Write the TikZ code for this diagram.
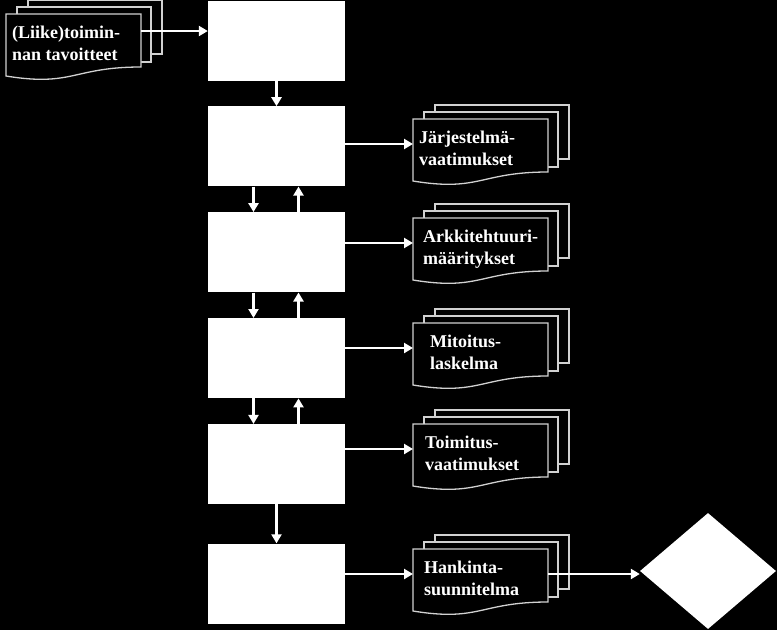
\documentclass[tikz,border=0pt]{standalone}
\usepackage{fontspec}
\setmainfont{Liberation Serif}
\usetikzlibrary{shapes.geometric,positioning,arrows.meta}

% a stack of three sheets: #2 name, #3/#4 top left corner, #5 text
\newcommand{\multidoc}[5][10]{%
  \begin{scope}[shift={(#3,#4)}]
    % The sheets behind:
    \draw[docline] (22,-14) rectangle (156,40);
    \draw[docline] (11,-7) rectangle (145,48);
    % The front sheet:
    \draw[docline] (0,0) -- (135,0) -- (135,53)
      .. controls (67,53) and (67,73) .. (0,62) -- cycle;
    \coordinate (#2-in) at (0,25);
    \coordinate (#2-out) at (135,25);
    % base of the last line
    \node[doctext] (#2) at (#1,46) {#5};
  \end{scope}}

\begin{document}
\begin{tikzpicture}[x=1pt, y=-1pt, node distance=25.5pt]
    \tikzstyle{stage} = [fill=white, minimum width=137pt, minimum height=80pt,
                         inner sep=0pt]
    \tikzstyle{docline} = [draw=white!82!black, fill=black, line width=1.3pt]
    \tikzstyle{doctext} = [anchor=base west, align=left, inner sep=0pt, text=white,
                           font=\bfseries\fontsize{18}{22}\selectfont]
    \tikzstyle{flow} = [draw=white, line width=2.4pt,
                        -{Triangle[length=9pt, width=10pt]}]
    \useasboundingbox (0,0) rectangle (777,630);
    \fill[black] (0,0) rectangle (777,630);

    % the stages
    \node[stage] (b1) at (276.5,40.5) {};
    \node[stage, below=of b1] (b2) {};
    \node[stage, below=of b2] (b3) {};
    \node[stage, below=of b3] (b4) {};
    \node[stage, below=of b4] (b5) {};
    \node[stage, below=39pt of b5] (b6) {};

    % the documents
    \multidoc[6]{lt}{6}{14}{(Liike)toimin-\\nan tavoitteet}
    \multidoc[6]{jv}{413}{119}{Järjestelmä-\\vaatimukset}
    \multidoc{am}{413}{218}{Arkkitehtuuri-\\määritykset}
    \multidoc[17]{ml}{413}{323}{Mitoitus-\\laskelma}
    \multidoc[12]{tv}{413}{424}{Toimitus-\\vaatimukset}
    \multidoc[11]{hs}{413}{549}{Hankinta-\\suunnitelma}

    \node[diamond, fill=white, minimum width=136pt, minimum height=116pt,
          inner sep=0pt] (dec) at (708,571) {};

    % connectors
    \coordinate (lt-exit) at ([yshift=8pt]lt-out);
    \draw[flow] (lt-exit) -- (lt-exit -| b1.west);
    \draw[flow] (b1.south) -- (b2.north);
    \foreach \u/\l in {b2/b3, b3/b4, b4/b5} {
        \draw[flow] ([xshift=-23pt]\u.south) -- ([xshift=-23pt]\l.north);
        \draw[flow] ([xshift=22pt]\l.north) -- ([xshift=22pt]\u.south);
    }
    \draw[flow] (b5.south) -- (b6.north);
    \foreach \b/\d in {b2/jv, b3/am, b4/ml, b5/tv, b6/hs}
        \draw[flow] (\b.east |- \d-in) -- (\d-in);
    \draw[flow] (hs-out) -- (hs-out -| dec.west);
\end{tikzpicture}
\end{document}
